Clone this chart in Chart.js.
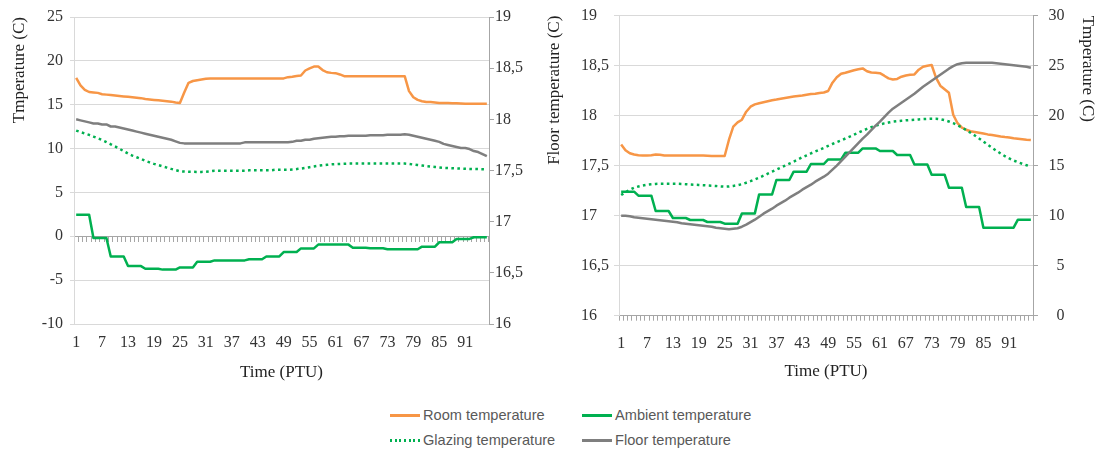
<!DOCTYPE html>
<html><head><meta charset="utf-8">
<script src="https://cdn.jsdelivr.net/npm/chart.js@4.4.1/dist/chart.umd.min.js"></script>
<style>
html,body{margin:0;padding:0;background:#fff;}
#wrap{position:relative;width:1103px;height:452px;overflow:hidden;background:#fff;}
#c1{position:absolute;left:0;top:0;}
#c2{position:absolute;left:540px;top:0;}
.lgt{position:absolute;font:14.6px "Liberation Sans",Arial,sans-serif;color:#595959;line-height:18px;white-space:nowrap;}
.lgs{position:absolute;height:3px;width:30px;}
</style></head><body>
<div id="wrap">
<canvas id="c1" width="540" height="400"></canvas>
<canvas id="c2" width="563" height="400"></canvas>
<div id="legend"></div>
</div>
<script>
// ---------- categories & tick labels ----------
const categories = [1,2,3,4,5,6,7,8,9,10,11,12,13,14,15,16,17,18,19,20,21,22,23,24,25,26,27,28,29,30,31,32,33,34,35,36,37,38,39,40,41,42,43,44,45,46,47,48,49,50,51,52,53,54,55,56,57,58,59,60,61,62,63,64,65,66,67,68,69,70,71,72,73,74,75,76,77,78,79,80,81,82,83,84,85,86,87,88,89,90,91,92,93,94,95,96];
const shownLabels = [1,7,13,19,25,31,37,43,49,55,61,67,73,79,85,91];
const leftTicksA = [-10,-5,0,5,10,15,20,25];
const rightTicksA = [16,16.5,17,17.5,18,18.5,19];
const leftTicksB = [16,16.5,17,17.5,18,18.5,19];
const rightTicksB = [0,5,10,15,20,25,30];

// ---------- left panel series ----------
const roomA = [18.05,17.2,16.7,16.45,16.4,16.35,16.2,16.15,16.1,16.05,
16.0,15.95,15.9,15.85,15.8,15.75,15.65,15.6,15.55,15.5,
15.45,15.4,15.35,15.25,15.2,16.4,17.5,17.7,17.8,17.87,
17.95,17.98,18,18,18,18,18,18,18,18,
18,18,18,18,18,18,18,18,18,18.14,
18.2,18.28,18.33,18.9,19.15,19.35,19.35,18.95,18.7,18.63,
18.6,18.45,18.25,18.25,18.25,18.25,18.25,18.25,18.25,18.25,
18.25,18.25,18.25,18.25,18.25,18.25,18.25,16.55,15.85,15.55,
15.4,15.3,15.3,15.25,15.2,15.2,15.2,15.17,15.17,15.13,
15.1,15.1,15.1,15.1,15.1,15.1];
const ambientA = [2.45,2.45,2.45,2.45,-0.2,-0.2,-0.2,-0.2,-2.3,-2.3,
-2.3,-2.3,-3.4,-3.4,-3.4,-3.4,-3.7,-3.7,-3.7,-3.7,
-3.8,-3.8,-3.8,-3.8,-3.55,-3.55,-3.55,-3.55,-2.9,-2.9,
-2.9,-2.9,-2.75,-2.75,-2.75,-2.75,-2.75,-2.75,-2.75,-2.75,
-2.62,-2.62,-2.62,-2.62,-2.3,-2.3,-2.3,-2.3,-1.8,-1.8,
-1.8,-1.8,-1.38,-1.38,-1.38,-1.38,-0.95,-0.95,-0.95,-0.95,
-0.95,-0.95,-0.95,-0.95,-1.3,-1.3,-1.3,-1.3,-1.37,-1.37,
-1.37,-1.37,-1.48,-1.48,-1.48,-1.48,-1.48,-1.48,-1.48,-1.48,
-1.18,-1.18,-1.18,-1.18,-0.68,-0.68,-0.68,-0.68,-0.3,-0.3,
-0.3,-0.3,-0.11,-0.11,-0.11,-0.11];
const glazingA = [12.05,11.88,11.72,11.56,11.37,11.18,10.97,10.74,10.49,10.24,
9.98,9.71,9.43,9.2,9.01,8.82,8.6,8.43,8.26,8.12,
7.97,7.83,7.68,7.55,7.41,7.38,7.36,7.35,7.34,7.34,
7.36,7.4,7.48,7.48,7.48,7.48,7.48,7.48,7.48,7.48,
7.52,7.52,7.52,7.52,7.52,7.52,7.58,7.58,7.58,7.58,
7.62,7.66,7.72,7.8,7.88,7.96,8.04,8.1,8.15,8.2,
8.23,8.25,8.27,8.29,8.29,8.29,8.29,8.29,8.29,8.29,
8.29,8.29,8.29,8.29,8.29,8.29,8.29,8.25,8.18,8.12,
8.06,8.0,7.95,7.9,7.85,7.8,7.78,7.76,7.74,7.72,
7.7,7.68,7.67,7.66,7.65,7.64];
const floorA = [18.0,17.99,17.98,17.97,17.96,17.96,17.95,17.95,17.93,17.93,
17.92,17.91,17.9,17.89,17.88,17.87,17.86,17.85,17.84,17.83,
17.82,17.81,17.8,17.785,17.77,17.765,17.765,17.765,17.765,17.765,
17.765,17.765,17.765,17.765,17.765,17.765,17.765,17.765,17.765,17.775,
17.775,17.775,17.775,17.775,17.775,17.775,17.775,17.775,17.775,17.775,
17.78,17.79,17.79,17.8,17.8,17.81,17.815,17.82,17.825,17.83,
17.83,17.835,17.835,17.84,17.84,17.84,17.84,17.84,17.845,17.845,
17.845,17.845,17.85,17.85,17.85,17.85,17.855,17.85,17.84,17.83,
17.82,17.81,17.8,17.79,17.78,17.76,17.75,17.74,17.73,17.72,
17.72,17.71,17.69,17.68,17.66,17.64];

// ---------- right panel series ----------
const roomB = [17.13,16.55,16.25,16.12,16.05,16.03,16.03,16.05,16.12,16.1,
16.03,16.03,16.03,16.03,16.03,16.03,16.03,16.03,16.03,16.03,
16.0,15.97,15.97,15.97,15.97,17.6,18.9,19.33,19.6,20.4,
20.9,21.13,21.25,21.35,21.45,21.55,21.62,21.7,21.78,21.85,
21.92,21.97,22.02,22.1,22.17,22.2,22.27,22.32,22.47,23.3,
23.85,24.2,24.3,24.42,24.55,24.65,24.73,24.45,24.32,24.3,
24.25,24.0,23.73,23.62,23.68,23.9,24.02,24.1,24.13,24.6,
24.9,25.0,25.07,23.8,23.0,22.65,22.3,20.1,19.25,18.8,
18.6,18.45,18.38,18.3,18.22,18.13,18.07,18.0,17.92,17.87,
17.83,17.75,17.7,17.65,17.6,17.57];
const ambientB = [12.4,12.4,12.4,12.4,12.0,12.0,12.0,12.0,10.47,10.47,
10.47,10.47,9.77,9.77,9.77,9.77,9.57,9.57,9.57,9.57,
9.37,9.37,9.37,9.37,9.2,9.2,9.2,9.2,10.23,10.23,
10.23,10.23,12.13,12.13,12.13,12.13,13.57,13.57,13.57,13.57,
14.4,14.4,14.4,14.4,15.17,15.17,15.17,15.17,15.63,15.63,
15.63,15.63,16.3,16.3,16.3,16.3,16.73,16.73,16.73,16.73,
16.47,16.47,16.47,16.47,16.07,16.07,16.07,16.07,15.13,15.13,
15.13,15.13,14.1,14.1,14.1,14.1,12.8,12.8,12.8,12.8,
10.87,10.87,10.87,10.87,8.8,8.8,8.8,8.8,8.8,8.8,
8.8,8.8,9.6,9.6,9.6,9.6];
const glazingB = [12.07,12.35,12.6,12.8,12.92,13.02,13.1,13.15,13.18,13.2,
13.2,13.2,13.2,13.2,13.18,13.15,13.12,13.1,13.07,13.05,
13.02,13.0,12.97,12.93,12.9,12.92,12.98,13.05,13.15,13.3,
13.45,13.62,13.8,14.0,14.2,14.4,14.6,14.8,15.0,15.2,
15.4,15.62,15.84,16.03,16.23,16.42,16.6,16.78,16.98,17.17,
17.35,17.53,17.72,17.9,18.1,18.3,18.5,18.68,18.85,19.0,
19.12,19.23,19.32,19.4,19.45,19.5,19.54,19.57,19.6,19.63,
19.66,19.68,19.7,19.7,19.65,19.55,19.42,19.25,19.05,18.82,
18.57,18.3,18.02,17.72,17.42,17.1,16.8,16.5,16.22,15.95,
15.72,15.52,15.35,15.2,15.05,14.9];
const floorB = [17.0,17.0,16.995,16.985,16.98,16.975,16.97,16.965,16.96,16.955,
16.95,16.945,16.94,16.935,16.925,16.92,16.915,16.91,16.905,16.9,
16.895,16.89,16.88,16.875,16.87,16.865,16.87,16.875,16.89,16.91,
16.935,16.96,16.99,17.02,17.045,17.07,17.1,17.125,17.15,17.18,
17.205,17.23,17.26,17.285,17.31,17.34,17.365,17.39,17.42,17.46,
17.5,17.545,17.59,17.635,17.68,17.725,17.77,17.81,17.855,17.9,
17.94,17.985,18.03,18.07,18.1,18.13,18.16,18.19,18.22,18.255,
18.29,18.32,18.35,18.38,18.41,18.44,18.47,18.495,18.515,18.525,
18.53,18.53,18.53,18.53,18.53,18.53,18.53,18.525,18.52,18.515,
18.51,18.505,18.5,18.495,18.49,18.48];

// ---------- styling ----------
const SERIF = '"Liberation Serif", "Times New Roman", serif';
const C_ROOM = '#F79646', C_AMB = '#00B050', C_GLZ = '#00B050', C_FLOOR = '#7F7F7F';
const GRID = '#D9D9D9', AXIS = '#A6A6A6', TICKTXT = '#333333', TITLETXT = '#222222';
const LW = 2.5;

const fmt = v => String(v).replace('.', ',');
const fixedTicks = arr => scale => { scale.ticks = arr.map(v => ({value: v})); };
const xLabel = (v, i) => shownLabels.includes(categories[i]) ? String(categories[i]) : '';
const tickFont = {family: SERIF, size: 16};
const titleFont = {family: SERIF, size: 17};

function makeDatasets(room, ambient, glazing, floor, tempAxis, floorAxis) {
  const base = {pointRadius: 0, pointHoverRadius: 0, tension: 0, borderWidth: LW, fill: false, borderJoinStyle: 'round'};
  return [
    Object.assign({}, base, {label: 'Room temperature', data: room, borderColor: C_ROOM, yAxisID: tempAxis, order: 4}),
    Object.assign({}, base, {label: 'Ambient temperature', data: ambient, borderColor: C_AMB, yAxisID: tempAxis, order: 3}),
    Object.assign({}, base, {label: 'Glazing temperature', data: glazing, borderColor: C_GLZ, yAxisID: tempAxis, borderDash: [2.6, 3.4], borderJoinStyle: 'miter', order: 2}),
    Object.assign({}, base, {label: 'Floor temperature', data: floor, borderColor: C_FLOOR, yAxisID: floorAxis, order: 1})
  ];
}

const commonPlugins = {legend: {display: false}, tooltip: {enabled: false}, title: {display: false}};

// ---------- left chart ----------
new Chart(document.getElementById('c1'), {
  type: 'line',
  data: {labels: categories, datasets: makeDatasets(roomA, ambientA, glazingA, floorA, 'y', 'y1')},
  options: {
    responsive: false, animation: false, devicePixelRatio: 1,
    layout: {padding: {top: 17, left: 0, right: 0, bottom: 0}},
    plugins: commonPlugins,
    scales: {
      x: {
        type: 'category', position: 'bottom', offset: true,
        grid: {display: false, drawTicks: false}, border: {display: false},
        ticks: {autoSkip: false, maxRotation: 0, minRotation: 0, padding: 9, font: tickFont, color: TICKTXT, callback: xLabel},
        title: {display: true, text: 'Time (PTU)', font: titleFont, color: TITLETXT, padding: {top: 0, bottom: 17}},
        afterFit: s => { s.height = 76; }
      },
      x2: {
        type: 'category', axis: 'x', offset: true, position: {y: 0},
        grid: {display: true, drawOnChartArea: false, drawTicks: true, tickLength: 5, offset: true, color: AXIS, tickColor: AXIS, lineWidth: 1},
        border: {display: true, color: AXIS, width: 1},
        ticks: {display: false}
      },
      y: {
        type: 'linear', position: 'left', min: -10, max: 25,
        afterBuildTicks: fixedTicks(leftTicksA),
        grid: {color: GRID, tickColor: GRID, drawTicks: true, tickLength: 4},
        border: {color: GRID},
        ticks: {padding: 7, font: tickFont, color: TICKTXT, callback: fmt},
        title: {display: true, text: 'Tmperature (C)', align: 'end', font: titleFont, color: TITLETXT, padding: {top: 9, bottom: 0}},
        afterFit: s => { s.width = 74; }
      },
      y1: {
        type: 'linear', position: 'right', min: 16, max: 19,
        afterBuildTicks: fixedTicks(rightTicksA),
        grid: {drawOnChartArea: false, drawTicks: true, tickLength: 5, color: AXIS, tickColor: AXIS},
        border: {color: AXIS},
        ticks: {padding: 1, font: tickFont, color: TICKTXT, callback: fmt},
        afterFit: s => { s.width = 51; }
      }
    }
  }
});

// ---------- right chart ----------
new Chart(document.getElementById('c2'), {
  type: 'line',
  data: {labels: categories, datasets: makeDatasets(roomB, ambientB, glazingB, floorB, 'y1', 'y')},
  options: {
    responsive: false, animation: false, devicePixelRatio: 1,
    layout: {padding: {top: 15.7, left: 41, right: 38.5, bottom: 0}},
    plugins: commonPlugins,
    scales: {
      x: {
        type: 'category', position: 'bottom', offset: true,
        grid: {display: true, drawOnChartArea: false, drawTicks: true, tickLength: 5, offset: true, color: AXIS, tickColor: AXIS},
        border: {display: true, color: AXIS},
        ticks: {autoSkip: false, maxRotation: 0, minRotation: 0, padding: 13, font: tickFont, color: TICKTXT, callback: xLabel},
        title: {display: true, text: 'Time (PTU)', font: titleFont, color: TITLETXT, padding: {top: 0, bottom: 18}},
        afterFit: s => { s.height = 84.3; }
      },
      y: {
        type: 'linear', position: 'left', min: 16, max: 19,
        afterBuildTicks: fixedTicks(leftTicksB),
        grid: {color: GRID, tickColor: GRID, drawTicks: true, tickLength: 5},
        border: {color: GRID},
        ticks: {crossAlign: 'far', padding: 4, font: tickFont, color: TICKTXT, callback: fmt},
        title: {display: true, text: 'Floor temperature (C)', align: 'end', font: titleFont, color: TITLETXT, padding: {top: -36.7, bottom: 0}},
        afterFit: s => { s.width = 38; }
      },
      y1: {
        type: 'linear', position: 'right', min: 0, max: 30,
        afterBuildTicks: fixedTicks(rightTicksB),
        grid: {drawOnChartArea: false, drawTicks: true, tickLength: 5, color: AXIS, tickColor: AXIS},
        border: {color: AXIS},
        ticks: {crossAlign: 'far', padding: 4, font: tickFont, color: TICKTXT, callback: fmt},
        title: {display: true, text: 'Tmperature (C)', align: 'end', font: titleFont, color: TITLETXT, padding: {top: -33.2, bottom: 0}},
        afterFit: s => { s.width = 31.5; }
      }
    }
  }
});

// ---------- shared legend ----------
const legendItems = [
  {label: 'Room temperature', color: C_ROOM, dotted: false, x: 390, y: 415},
  {label: 'Ambient temperature', color: C_AMB, dotted: false, x: 582, y: 415},
  {label: 'Glazing temperature', color: C_GLZ, dotted: true, x: 390, y: 440},
  {label: 'Floor temperature', color: C_FLOOR, dotted: false, x: 582, y: 440}
];
const lg = document.getElementById('legend');
legendItems.forEach(it => {
  const sw = document.createElement('div');
  sw.className = 'lgs';
  sw.style.left = it.x + 'px';
  sw.style.top = (it.y - 1.5) + 'px';
  sw.style.background = it.dotted
    ? 'repeating-linear-gradient(to right, ' + it.color + ' 0 2px, transparent 2px 4.7px)'
    : it.color;
  lg.appendChild(sw);
  const t = document.createElement('div');
  t.className = 'lgt';
  t.style.left = (it.x + 33) + 'px';
  t.style.top = (it.y - 9) + 'px';
  t.textContent = it.label;
  lg.appendChild(t);
});
</script>
</body></html>
